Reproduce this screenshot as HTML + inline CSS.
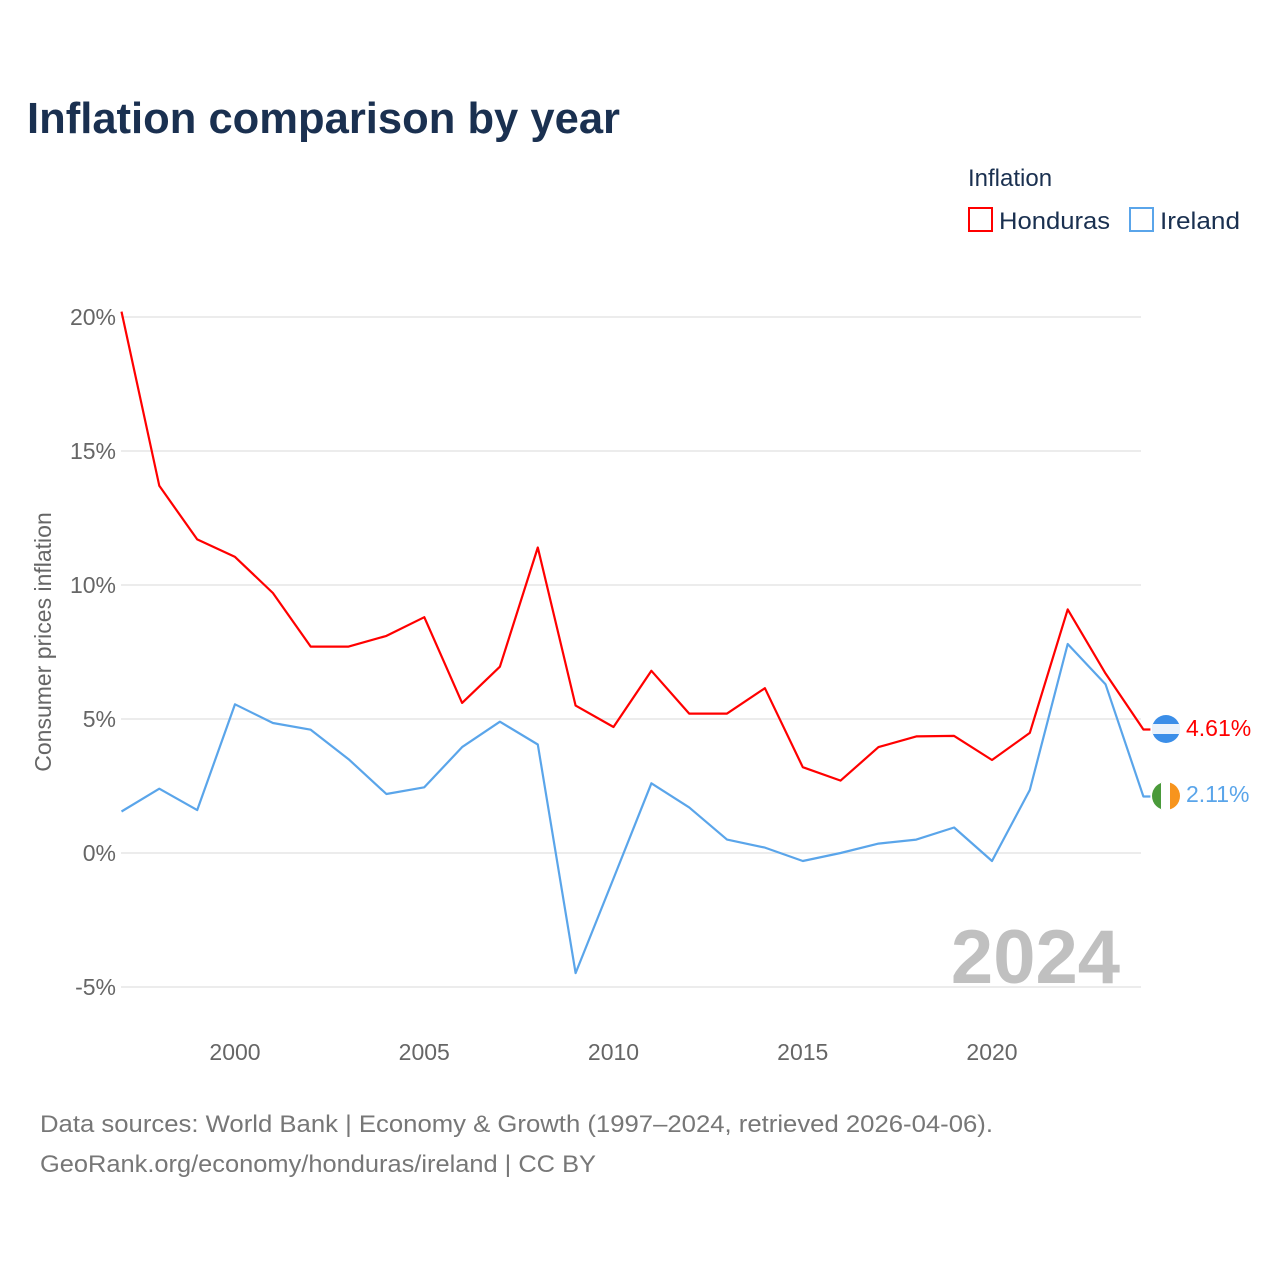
<!DOCTYPE html>
<html><head><meta charset="utf-8">
<style>
body{margin:0;background:#fff;font-family:"Liberation Sans",sans-serif;}
svg text{font-family:"Liberation Sans",sans-serif;}
</style></head>
<body>
<svg width="1280" height="1280" viewBox="0 0 1280 1280">
<text x="27" y="133" font-size="44" font-weight="bold" fill="#1a3050" textLength="593" lengthAdjust="spacingAndGlyphs">Inflation comparison by year</text>
<text x="968" y="186" font-size="24" fill="#1a3050">Inflation</text>
<g><rect x="969" y="208" width="23" height="23" fill="none" stroke="#f00" stroke-width="2"/><text x="999" y="229" font-size="24" fill="#1a3050" textLength="111" lengthAdjust="spacingAndGlyphs">Honduras</text></g>
<g><rect x="1130" y="208" width="23" height="23" fill="none" stroke="#5aa5ea" stroke-width="2"/><text x="1160" y="229" font-size="24" fill="#1a3050" textLength="80" lengthAdjust="spacingAndGlyphs">Ireland</text></g>
<g id="grid"></g>
<g id="yticks"></g>
<g id="xticks"></g>
<text transform="translate(51,642) rotate(-90)" text-anchor="middle" font-size="23" fill="#666">Consumer prices inflation</text>
<text x="1120" y="983" text-anchor="end" font-size="76" font-weight="bold" fill="#c0c0c0">2024</text>
<g id="series"></g>
<g><circle cx="1166" cy="729" r="14" fill="#3b8ee8"/><rect x="1152" y="724" width="28" height="10" fill="#eaf2fb"/></g>
<g><clipPath id="ic"><circle cx="1166" cy="796" r="14"/></clipPath><g clip-path="url(#ic)"><rect x="1152" y="782" width="10" height="28" fill="#4a9a3a"/><rect x="1161" y="782" width="10" height="28" fill="#fff"/><rect x="1170" y="782" width="12" height="28" fill="#f7941d"/></g></g>
<text x="1186" y="736" font-size="23" fill="#f00">4.61%</text>
<text x="1186" y="802" font-size="23" fill="#5aa5ea">2.11%</text>
<text x="40" y="1132" font-size="24" fill="#777" textLength="953" lengthAdjust="spacingAndGlyphs">Data sources: World Bank | Economy &amp; Growth (1997–2024, retrieved 2026-04-06).</text>
<text x="40" y="1172" font-size="24" fill="#777" textLength="556" lengthAdjust="spacingAndGlyphs">GeoRank.org/economy/honduras/ireland | CC BY</text>
</svg>
<script>
const years=[1997,1998,1999,2000,2001,2002,2003,2004,2005,2006,2007,2008,2009,2010,2011,2012,2013,2014,2015,2016,2017,2018,2019,2020,2021,2022,2023,2024];
const honduras=[20.2,13.7,11.7,11.05,9.7,7.7,7.7,8.1,8.8,5.6,6.95,11.4,5.5,4.7,6.8,5.2,5.2,6.15,3.2,2.7,3.95,4.35,4.37,3.47,4.48,9.09,6.7,4.61];
const ireland=[1.55,2.4,1.6,5.55,4.85,4.6,3.5,2.2,2.45,3.95,4.9,4.05,-4.48,-0.95,2.6,1.7,0.5,0.2,-0.3,0.0,0.35,0.5,0.95,-0.3,2.35,7.8,6.3,2.11];
const yTicks=[-5,0,5,10,15,20];
const xTicks=[2000,2005,2010,2015,2020];
const NS="http://www.w3.org/2000/svg";
const x=v=>235+(v-2000)*(992-235)/20;
const y=v=>853-v*26.8;
function mk(t,a,p){const e=document.createElementNS(NS,t);for(const k in a)e.setAttribute(k,a[k]);p.appendChild(e);return e;}
const grid=document.getElementById('grid'),yt=document.getElementById('yticks'),xt=document.getElementById('xticks'),ser=document.getElementById('series');
yTicks.forEach(v=>{
 const l=mk('line',{x1:121,x2:1141,y1:y(v),y2:y(v),stroke:'#e6e6e6','stroke-width':1.5},grid);
 
 
 const t=mk('text',{x:116,y:y(v)+8,'text-anchor':'end','font-size':23,fill:'#666'},yt);
 t.textContent=v+'%';
 
 
});
xTicks.forEach(v=>{
 const t=mk('text',{x:x(v),y:1060,'text-anchor':'middle','font-size':23,fill:'#666'},xt);
 t.textContent=v;
 
 
});
function line(vals,col,name){
 let d=vals.map((v,i)=>(i?'L':'M')+x(years[i]).toFixed(1)+','+y(v).toFixed(1)).join(' ');
 d+=' L'+(x(years[years.length-1])+7).toFixed(1)+','+y(vals[vals.length-1]).toFixed(1);
 const p=mk('path',{d:d,fill:'none',stroke:col,'stroke-width':2.2,'stroke-linejoin':'round'},ser);
 
 
}
line(ireland,'#5aa5ea','ireland-line');
line(honduras,'#f00','honduras-line');
</script>
</body></html>
